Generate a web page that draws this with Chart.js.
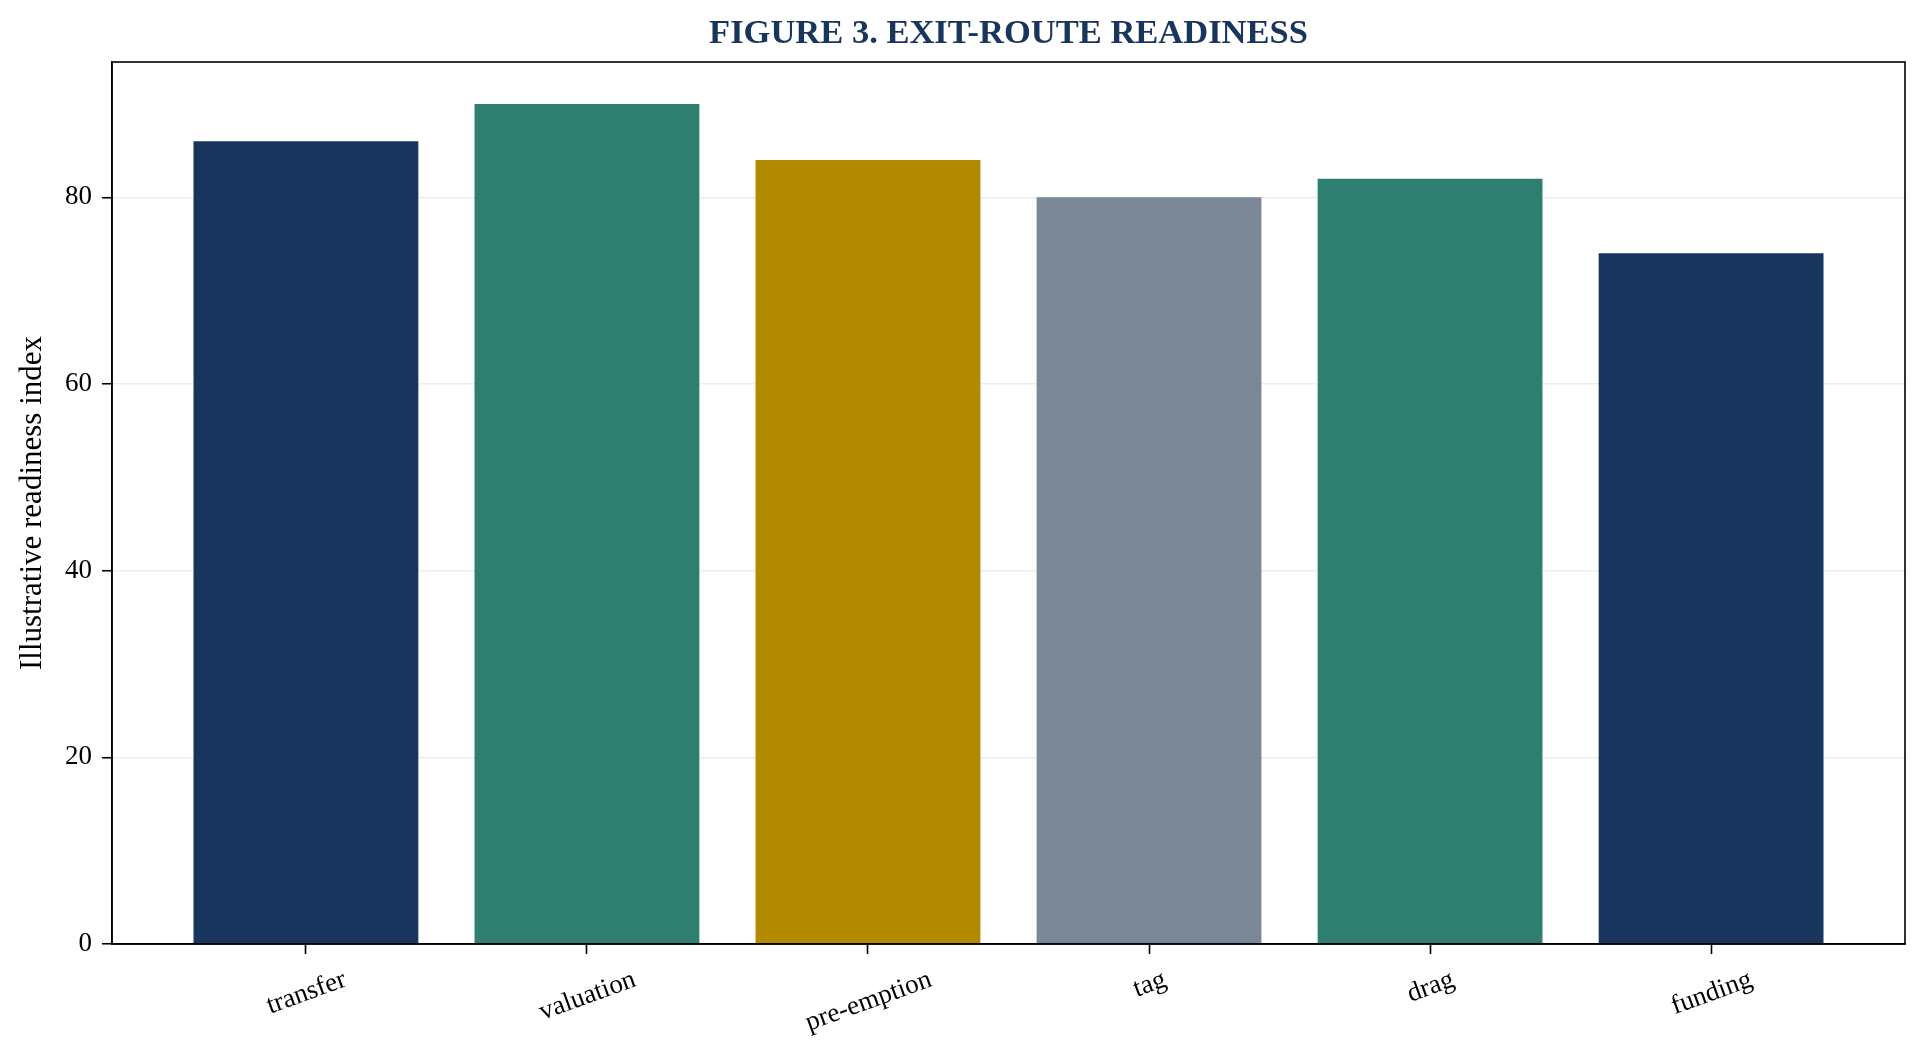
<!DOCTYPE html>
<html>
<head>
<meta charset="utf-8">
<title>Exit-route readiness</title>
<script src="https://cdn.jsdelivr.net/npm/chart.js@4.4.1/dist/chart.umd.min.js"></script>
<style>
  html, body { margin: 0; padding: 0; background: #fff; }
  canvas { display: block; }
</style>
</head>
<body>
<canvas id="readiness-chart" width="1924" height="1062"></canvas>
<script>
const CATEGORIES = ['transfer', 'valuation', 'pre-emption', 'tag', 'drag', 'funding'];
const READINESS = [86, 90, 84, 80, 82, 74];
const BAR_COLORS = ['#18365d', '#2e7f6f', '#b38900', '#7a8796', '#2e7f6f', '#18365d'];
const Y_TICKS = [0, 20, 40, 60, 80];

const TITLE = 'FIGURE 3. EXIT-ROUTE READINESS';
const Y_TITLE = 'Illustrative readiness index';

const FONT = "'Times New Roman', 'Liberation Serif', 'DejaVu Serif', serif";
const TICK_SIZE = 27;
const LABEL_ROTATION = 20;

// title over the axes, x tick labels centred under the tick, frame and y title
const decorPlugin = {
    id: 'decor',
    afterDraw(chart) {
        const { ctx, chartArea } = chart;
        const xScale = chart.scales.x;
        ctx.save();

        ctx.strokeStyle = '#000';
        ctx.lineWidth = 1.6;
        ctx.strokeRect(chartArea.left, chartArea.top,
            chartArea.right - chartArea.left, chartArea.bottom - chartArea.top);

        ctx.fillStyle = '#18365d';
        ctx.font = `bold 34.5px ${FONT}`;
        ctx.textAlign = 'center';
        ctx.textBaseline = 'middle';
        ctx.fillText(TITLE, (chartArea.left + chartArea.right) / 2, 34);

        ctx.fillStyle = '#000';
        ctx.font = `${TICK_SIZE}px ${FONT}`;
        const rad = LABEL_ROTATION * Math.PI / 180;
        const h = TICK_SIZE * 1.107;
        const top = chartArea.bottom + 19;
        CATEGORIES.forEach((label, i) => {
            const w = ctx.measureText(label).width;
            const boxH = w * Math.sin(rad) + h * Math.cos(rad);
            const cx = xScale.getPixelForValue(i);
            const cy = top + boxH / 2;
            ctx.save();
            ctx.translate(cx, cy);
            ctx.rotate(-rad);
            ctx.textAlign = 'center';
            ctx.textBaseline = 'alphabetic';
            ctx.fillText(label, 0, TICK_SIZE * 0.3375);
            ctx.restore();
        });

        ctx.font = `31px ${FONT}`;
        ctx.translate(33, (chartArea.top + chartArea.bottom) / 2);
        ctx.rotate(-Math.PI / 2);
        ctx.textAlign = 'center';
        ctx.textBaseline = 'middle';
        ctx.fillText(Y_TITLE, 0, 0);
        ctx.restore();
    },
};

const buildConfig = () => ({
    type: 'bar',
    data: {
        datasets: [
            {
                label: 'Readiness',
                data: READINESS.map((v, i) => ({ x: i, y: v })),
                backgroundColor: BAR_COLORS,
                borderWidth: 0,
                barPercentage: 0.8,
                categoryPercentage: 1.0,
            },
        ],
    },
    options: {
        responsive: false,
        devicePixelRatio: 1,
        animation: false,
        layout: { padding: { left: 0, right: 19, top: 62, bottom: 0 } },
        plugins: {
            legend: { display: false },
            tooltip: { enabled: false },
            title: { display: false },
        },
        scales: {
            x: {
                type: 'linear',
                min: -0.69,
                max: 5.69,
                offset: false,
                afterBuildTicks: (scale) => {
                    scale.ticks = CATEGORIES.map((c, i) => ({ value: i }));
                },
                afterFit: (scale) => { scale.height = 118; },
                ticks: { display: false, autoSkip: false },
                grid: {
                    offset: false,
                    drawOnChartArea: false,
                    drawTicks: true,
                    tickLength: 10,
                    tickColor: '#000',
                    tickWidth: 1.6,
                },
                border: { display: true, color: '#000', width: 1.6 },
            },
            y: {
                min: 0,
                max: 94.5,
                z: 1,
                afterBuildTicks: (scale) => {
                    scale.ticks = Y_TICKS.map((v) => ({ value: v }));
                },
                afterFit: (scale) => { scale.width = 112; },
                ticks: {
                    color: '#000',
                    padding: 10,
                    font: { family: FONT, size: TICK_SIZE },
                },
                grid: {
                    color: 'rgba(215, 215, 215, 0.45)',
                    lineWidth: 1.5,
                    tickLength: 10,
                    tickColor: '#000',
                    tickWidth: 1.6,
                },
                border: { display: true, color: '#000', width: 1.6 },
            },
        },
    },
    plugins: [decorPlugin],
});

(function () {
    const el = document.getElementById('readiness-chart');
    new Chart(el, buildConfig());
})();
</script>
</body>
</html>
